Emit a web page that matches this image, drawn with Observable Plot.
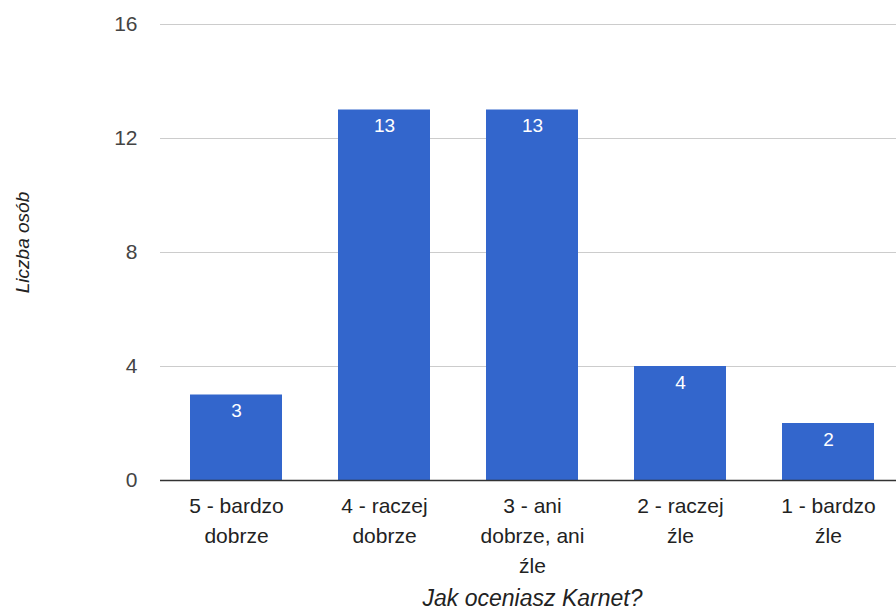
<!DOCTYPE html>
<html><head><meta charset="utf-8">
<script src="https://cdn.jsdelivr.net/npm/d3@7"></script>
<script src="https://cdn.jsdelivr.net/npm/@observablehq/plot@0.6"></script>
<style>
body{margin:0;background:#fff;}
#chart svg{display:block;}
</style>
</head><body><div id="chart"></div>
<script>
const categories = ["5 - bardzo dobrze","4 - raczej dobrze","3 - ani dobrze, ani źle","2 - raczej źle","1 - bardzo źle"];
const tickLabels = ["5 - bardzo\ndobrze","4 - raczej\ndobrze","3 - ani\ndobrze, ani\nźle","2 - raczej\nźle","1 - bardzo\nźle"];
const values = [3,13,13,4,2];
const yTicks = [0,4,8,12,16];
const xTitle = "Jak oceniasz Karnet?";
const yTitle = "Liczba osób";

const data = categories.map((c,i)=>({category:c, value:values[i], label:tickLabels[i]}));
const font = "Liberation Sans, Arial, sans-serif";

const chart = Plot.plot({
  width: 896,
  height: 609,
  marginTop: 24,
  marginBottom: 129,
  marginLeft: 160,
  marginRight: 0,
  style: {fontFamily: font, fontSize: "20px", background: "#fff"},
  x: {domain: categories, range: [160.75, 903.25], paddingInner: 0.38, paddingOuter: 0.19, axis: null},
  y: {domain: [0,16], axis: null},
  marks: [
    Plot.ruleY(yTicks.filter(d=>d>0), {stroke: "#cccccc", strokeWidth: 1}),
    Plot.barY(data, {x: "category", y: "value", fill: "#3366cc"}),
    Plot.ruleY([0], {stroke: "#333333", strokeWidth: 1.5}),
    Plot.text(data, {x: "category", y: "value", text: d=>String(d.value), fill: "#ffffff", dy: 16, fontSize: 19}),
    Plot.axisY({ticks: yTicks, tickSize: 0, tickPadding: 23, fontSize: 21, color: "#444444", label: null}),
    Plot.text(data, {x: "category", y: 0, text: "label", dy: 11, lineAnchor: "top", lineHeight: 1.43, fill: "#222222", fontSize: 21}),
    Plot.text([xTitle], {x: () => categories[2], y: () => 0, text: d=>d, lineAnchor: "bottom", fontStyle: "italic", fill: "#222222", fontSize: 23, dy: 125}),
    Plot.text([yTitle], {frameAnchor: "left", textAnchor: "middle", text: d=>d, rotate: -90, fontStyle: "italic", fill: "#222222", fontSize: 19, dx: -138, dy: -10})
  ]
});
document.getElementById("chart").appendChild(chart);
</script>
</body></html>
